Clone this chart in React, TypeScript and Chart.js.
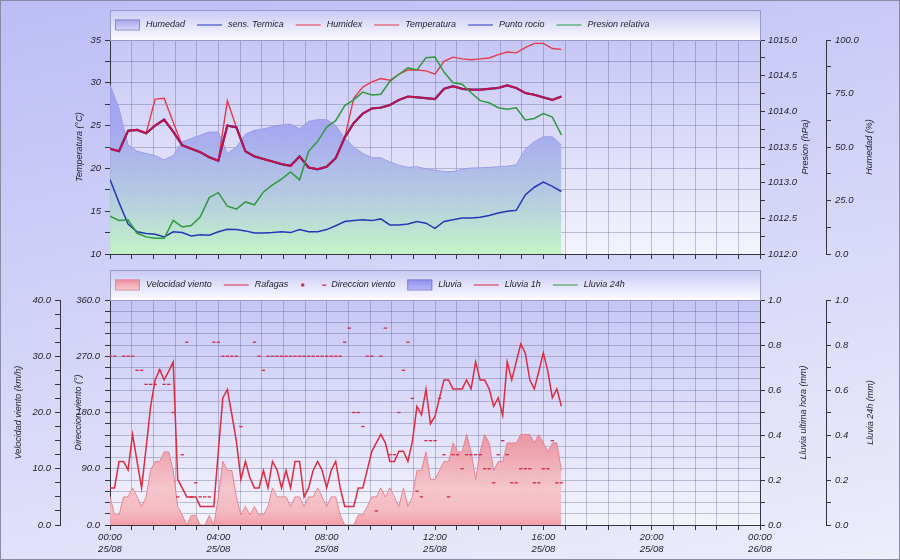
import React, { useEffect, useRef } from "react";
import { Chart, registerables } from "chart.js";

Chart.register(...registerables);

const FONT = '"Liberation Sans", Arial, Helvetica, sans-serif';

// ---------------- data ----------------
// tick labels of the time axis (every 4 h)
const horasEje = ["00:00", "04:00", "08:00", "12:00", "16:00", "20:00", "00:00"];
const fechasEje = ["25/08", "25/08", "25/08", "25/08", "25/08", "25/08", "26/08"];

// sampling intervals (minutes)
const PASO_TEMP = 20;
const PASO_VIENTO = 10;

// top panel (every 20 min from 00:00 to 16:40)
const humedad = [79, 68, 51, 48, 47, 46, 44, 46, 52.5, 54, 55.5, 57, 57, 47, 50, 56, 57.8, 58.5, 59.5, 60.3, 60.7, 58.5, 62, 62.8, 62.8, 60, 54.2, 50, 47, 45, 45, 43, 41.5, 40.5, 40.8, 39.8, 39.1, 38.6, 38.5, 39.6, 40.2, 40.3, 40.5, 40.8, 41, 41.7, 49, 52.5, 54.8, 54.8, 51];
const temperatura = [22.3, 22.0, 24.4, 24.5, 24.1, 25.0, 25.7, 24.3, 22.7, 22.3, 21.9, 21.3, 20.9, 25.0, 24.8, 22.0, 21.4, 21.1, 20.8, 20.5, 20.3, 21.4, 20.1, 19.9, 20.2, 21.2, 23.6, 25.3, 26.4, 27.0, 27.1, 27.4, 28.0, 28.4, 28.3, 28.2, 28.1, 29.3, 29.6, 29.3, 29.2, 29.2, 29.3, 29.4, 29.7, 29.4, 28.8, 28.6, 28.3, 28.0, 28.4];
const sensTermica = [22.3, 22.0, 24.4, 24.5, 24.1, 25.0, 25.7, 24.3, 22.7, 22.3, 21.9, 21.3, 20.9, 25.0, 24.8, 22.0, 21.4, 21.1, 20.8, 20.5, 20.3, 21.4, 20.1, 19.9, 20.2, 21.2, 23.6, 25.3, 26.4, 27.0, 27.1, 27.4, 28.0, 28.4, 28.3, 28.2, 28.1, 29.3, 29.6, 29.3, 29.2, 29.2, 29.3, 29.4, 29.7, 29.4, 28.8, 28.6, 28.3, 28.0, 28.4];
const humidex = [22.3, 22.0, 24.4, 24.5, 24.1, 28.1, 28.2, 25.4, 22.7, 22.3, 21.9, 21.3, 20.9, 27.9, 24.8, 22.0, 21.4, 21.1, 20.8, 20.5, 20.3, 21.4, 20.1, 19.9, 20.2, 21.2, 23.6, 28.2, 29.5, 30.1, 30.5, 30.3, 31.0, 31.5, 31.5, 31.4, 31.0, 32.5, 33.0, 32.8, 32.7, 32.8, 32.9, 33.3, 33.6, 33.5, 34.1, 34.6, 34.6, 34.0, 33.9];
const puntoRocio = [18.7, 16.0, 13.5, 12.6, 12.4, 12.3, 12.0, 12.6, 12.5, 12.1, 12.25, 12.2, 12.6, 12.9, 12.85, 12.7, 12.45, 12.45, 12.5, 12.6, 12.5, 12.85, 12.6, 12.6, 12.85, 13.3, 13.8, 13.9, 14.0, 13.9, 14.1, 13.4, 13.4, 13.5, 13.8, 13.6, 13.0, 13.8, 14.0, 14.2, 14.2, 14.3, 14.5, 14.8, 15.0, 15.1, 16.9, 17.8, 18.4, 17.9, 17.3];
const presion = [1012.53, 1012.47, 1012.48, 1012.29, 1012.24, 1012.22, 1012.22, 1012.47, 1012.38, 1012.40, 1012.52, 1012.79, 1012.86, 1012.67, 1012.63, 1012.73, 1012.69, 1012.87, 1012.97, 1013.05, 1013.15, 1013.04, 1013.44, 1013.58, 1013.78, 1013.87, 1014.08, 1014.16, 1014.27, 1014.23, 1014.24, 1014.42, 1014.52, 1014.61, 1014.58, 1014.75, 1014.76, 1014.55, 1014.40, 1014.38, 1014.26, 1014.15, 1014.12, 1014.05, 1014.03, 1014.05, 1013.88, 1013.90, 1013.97, 1013.92, 1013.67];

// bottom panel (every 10 min from 00:00 to 16:40)
const velocidad = [5.1, 1.8, 1.8, 5.0, 5.0, 6.6, 5.0, 3.3, 5.0, 9.7, 11.3, 11.3, 13.0, 13.0, 9.7, 3.3, 1.8, 0, 1.7, 1.7, 0, 0, 1.7, 0, 5.0, 11.3, 9.7, 9.7, 5.0, 1.8, 3.3, 1.8, 3.3, 1.8, 1.8, 3.3, 6.6, 5.0, 5.0, 5.0, 3.3, 5.0, 5.0, 3.3, 5.0, 5.0, 6.6, 5.0, 3.3, 5.0, 5.0, 1.8, 0, 0, 0, 1.8, 1.8, 3.3, 5.0, 5.0, 6.6, 5.0, 6.6, 5.0, 3.3, 6.6, 3.3, 5.0, 9.7, 9.7, 13.0, 8.1, 8.1, 9.7, 11.3, 11.3, 14.6, 13.0, 13.0, 16.1, 13.0, 8.1, 13.0, 16.1, 14.6, 9.7, 11.3, 11.3, 14.6, 14.6, 14.6, 16.1, 16.1, 16.1, 14.6, 16.1, 14.6, 13.0, 14.6, 14.6, 9.7];
const rafagas = [6.6, 6.6, 11.3, 11.3, 9.8, 16.1, 11.3, 6.6, 13.7, 21.1, 25.8, 27.6, 25.8, 27.3, 29.0, 8.1, 6.6, 5.0, 5.0, 5.0, 3.3, 3.3, 3.3, 3.3, 13.1, 22.6, 24.1, 19.6, 14.9, 8.1, 11.3, 8.4, 6.6, 6.6, 9.7, 6.6, 11.3, 9.8, 6.6, 9.7, 6.6, 11.3, 11.3, 5.0, 6.6, 9.7, 11.3, 9.7, 6.6, 9.7, 11.3, 6.6, 3.3, 3.3, 3.3, 6.6, 6.6, 9.8, 13.1, 14.6, 16.1, 14.6, 11.3, 11.3, 13.1, 13.1, 11.3, 14.9, 21.1, 19.6, 24.1, 18.0, 19.3, 22.6, 25.8, 25.8, 24.2, 24.2, 24.2, 25.8, 24.2, 29.0, 25.8, 25.8, 24.2, 21.1, 22.6, 19.5, 29.0, 25.8, 29.0, 32.2, 30.6, 25.8, 24.2, 27.3, 30.6, 27.3, 22.6, 24.2, 21.1];
const direccion = [270, 270, null, 270, 270, 270, 247.5, 247.5, 225, 225, 225, 247.5, 225, 225, 180, 45, 112.5, 292.5, 45, 67.5, 45, 45, 45, 292.5, 292.5, 270, 270, 270, 270, 157.5, null, null, 292.5, 270, 247.5,
  270, 270, 270, 270, 270, 270, 270, 270, 270, 270, 270, 270, 270, 270, 270, 270, 270,
  292.5, 315, 180, 180, 157.5, 270, 270, 22.5, 270, 315, 112.5, 112.5, 180, 247.5, 292.5, 202.5, 54, 45, 135, 135, 135, 202.5, 112.5, 45, 112.5, 112.5, 90, 112.5, 112.5, 112.5, 112.5, 90, 90, 67.5, 112.5, 135, 112.5, 67.5, 67.5, 90, 90, 90, 67.5, 67.5, 90, 90, 135, 67.5, 67.5];
const lluvia: number[] = [];
const lluvia1h: number[] = [];
const lluvia24h: number[] = [];

// ---------------- helpers ----------------
const serie = (vals: (number | null)[], minutos: number) =>
  vals.map((v, i) => ({ x: (i * minutos) / 60, y: v }));

const TEXT = "#1e1e2a";
const AXIS = "#34343e";
const GRID = "rgba(70,70,125,0.30)";
const tickFont = { family: FONT, size: 9.5, style: "italic" as const, lineHeight: 1.2 };

const near = (v: number, m: number) => Math.abs(v / m - Math.round(v / m)) < 1e-6;

function gradHumedad(c: any) {
  const chart = c.chart;
  const a = chart.chartArea;
  if (!a) return "rgba(160,160,236,0.9)";
  const g = chart.ctx.createLinearGradient(0, a.top, 0, a.bottom);
  g.addColorStop(0, "rgba(154,154,240,0.95)");
  g.addColorStop(0.42, "rgba(164,166,240,0.95)");
  g.addColorStop(0.72, "rgba(178,200,224,0.95)");
  g.addColorStop(1, "rgba(194,244,198,0.97)");
  return g;
}

function gradViento(c: any) {
  const chart = c.chart;
  const a = chart.chartArea;
  if (!a) return "rgba(240,150,160,0.9)";
  const g = chart.ctx.createLinearGradient(0, a.top, 0, a.bottom);
  g.addColorStop(0, "rgba(230,130,145,0.95)");
  g.addColorStop(0.62, "rgba(236,150,162,0.95)");
  g.addColorStop(0.84, "rgba(245,196,202,0.95)");
  g.addColorStop(0.94, "rgba(245,184,190,0.95)");
  g.addColorStop(1, "rgba(242,156,166,0.97)");
  return g;
}

const fondoPlugin = {
  id: "fondoArea",
  beforeDraw(chart: any) {
    const { ctx, chartArea: a } = chart;
    if (!a) return;
    ctx.save();
    const g = ctx.createLinearGradient(0, a.top, 0, a.bottom);
    g.addColorStop(0, "#c6c6f5");
    g.addColorStop(1, "#f4f4fd");
    ctx.fillStyle = g;
    ctx.fillRect(a.left, a.top, a.right - a.left, a.bottom - a.top);
    ctx.restore();
  },
};

const leyendaPlugin = {
  id: "leyendaCaja",
  afterDraw(chart: any) {
    const { ctx, chartArea: a } = chart;
    if (!a) return;
    const h = 30;
    const top = Math.round(a.top) - h;
    const left = Math.round(a.left);
    const w = Math.round(a.right - a.left);
    ctx.save();
    const g = ctx.createLinearGradient(0, top, 0, top + h);
    g.addColorStop(0, "#c8c8f5");
    g.addColorStop(1, "#fbfbff");
    ctx.fillStyle = g;
    ctx.fillRect(left, top, w, h);
    ctx.strokeStyle = "#9a9ac6";
    ctx.lineWidth = 1;
    ctx.strokeRect(left + 0.5, top + 0.5, w, h);
    ctx.font = `italic 9px ${FONT}`;
    ctx.textBaseline = "middle";
    ctx.textAlign = "left";
    const cy = top + 14.5;
    let x = left + 5;
    for (const ds of chart.data.datasets) {
      const kind = ds.leyenda;
      const col = ds.leyendaColor || ds.borderColor;
      if (kind === "box") {
        const gb = ctx.createLinearGradient(0, cy - 5, 0, cy + 5);
        gb.addColorStop(0, ds.leyendaCaja[0]);
        gb.addColorStop(1, ds.leyendaCaja[1]);
        ctx.fillStyle = gb;
        ctx.fillRect(x, cy - 5, 25, 10);
        ctx.strokeStyle = ds.leyendaCaja[2];
        ctx.strokeRect(x + 0.5, cy - 5 + 0.5, 24, 10);
      } else if (kind === "line") {
        ctx.strokeStyle = col;
        ctx.lineWidth = 1;
        ctx.beginPath();
        ctx.moveTo(x, cy + 0.5);
        ctx.lineTo(x + 25, cy + 0.5);
        ctx.stroke();
      } else if (kind === "dash") {
        ctx.fillStyle = col;
        ctx.fillRect(x + 1, cy - 1, 3, 3);
        ctx.fillRect(x + 22, cy, 4, 1.3);
      }
      x += 31;
      ctx.fillStyle = TEXT;
      ctx.fillText(ds.label, x, cy);
      x += ctx.measureText(ds.label).width + 12;
    }
    ctx.restore();
  },
};

function titulosPlugin(posiciones: Record<string, number>) {
  return {
    id: "titulosEjes",
    afterDraw(chart: any) {
      const { ctx, chartArea: a } = chart;
      if (!a) return;
      const cy = (a.top + a.bottom) / 2;
      ctx.save();
      ctx.font = `italic 9px ${FONT}`;
      ctx.fillStyle = TEXT;
      ctx.textAlign = "center";
      ctx.textBaseline = "middle";
      for (const id of Object.keys(posiciones)) {
        const sc = chart.scales[id];
        const text = sc && sc.options && sc.options.title && sc.options.title.text;
        if (!text) continue;
        ctx.save();
        ctx.translate(posiciones[id], cy);
        ctx.rotate(-Math.PI / 2);
        ctx.fillText(text, 0, 0);
        ctx.restore();
      }
      ctx.restore();
    },
  };
}

function ejeY(opts: any) {
  const { position, min, max, step, every, width, weight, padding, gridOnArea, title, fmt } = opts;
  return {
    type: "linear",
    position,
    min,
    max,
    weight,
    afterFit: (s: any) => {
      s.width = width;
    },
    title: { display: false, text: title },
    ticks: {
      stepSize: step,
      autoSkip: false,
      padding,
      color: TEXT,
      font: tickFont,
      callback: (v: number) => (near(v, every) ? fmt(v) : ""),
    },
    grid: {
      drawOnChartArea: gridOnArea,
      color: gridOnArea ? GRID : AXIS,
      tickColor: AXIS,
      tickLength: 5,
      lineWidth: 1,
    },
    border: { display: true, color: AXIS, width: 1 },
  };
}

function ejeX(height: number, conEtiquetas: boolean) {
  return {
    type: "linear",
    position: "bottom",
    min: 0,
    max: 24,
    afterFit: (s: any) => {
      s.height = height;
    },
    ticks: {
      stepSize: 0.8,
      autoSkip: false,
      maxRotation: 0,
      minRotation: 0,
      padding: 2,
      color: TEXT,
      font: tickFont,
      callback: (v: number) => {
        if (!conEtiquetas) return "";
        const k = Math.round(v * 10);
        if (k % 40 !== 0) return "";
        const idx = k / 40;
        return [horasEje[idx], fechasEje[idx]];
      },
    },
    grid: { color: GRID, tickColor: AXIS, tickLength: 5, lineWidth: 1 },
    border: { display: true, color: AXIS, width: 1 },
  };
}

const fmt1 = (v: number) => v.toFixed(1);

function configSuperior(): any {
  return {
    type: "line",
    data: {
      datasets: [
        {
          label: "Humedad",
          data: serie(humedad, PASO_TEMP),
          yAxisID: "yH",
          fill: "origin",
          backgroundColor: gradHumedad,
          borderColor: "rgba(150,150,232,0.85)",
          borderWidth: 1,
          pointRadius: 0,
          order: 10,
          leyenda: "box",
          leyendaCaja: ["#a2a2ec", "#d2d4f6", "#8c8cd0"],
        },
        {
          label: "sens. Termica",
          data: serie(sensTermica, PASO_TEMP),
          yAxisID: "yT",
          borderColor: "#2236b8",
          borderWidth: 2.2,
          pointRadius: 0,
          order: 3,
          leyenda: "line",
        },
        {
          label: "Humidex",
          data: serie(humidex, PASO_TEMP),
          yAxisID: "yT",
          borderColor: "#e63a4c",
          borderWidth: 1.4,
          pointRadius: 0,
          order: 4,
          leyenda: "line",
        },
        {
          label: "Temperatura",
          data: serie(temperatura, PASO_TEMP),
          yAxisID: "yT",
          borderColor: "rgba(214,14,52,0.88)",
          leyendaColor: "#e23c4e",
          borderWidth: 2,
          pointRadius: 0,
          order: 2,
          leyenda: "line",
        },
        {
          label: "Punto rocio",
          data: serie(puntoRocio, PASO_TEMP),
          yAxisID: "yT",
          borderColor: "#2438b6",
          borderWidth: 1.5,
          pointRadius: 0,
          order: 5,
          leyenda: "line",
        },
        {
          label: "Presion relativa",
          data: serie(presion, PASO_TEMP),
          yAxisID: "yP",
          borderColor: "#2f9a3e",
          borderWidth: 1.5,
          pointRadius: 0,
          order: 1,
          leyenda: "line",
        },
      ],
    },
    options: {
      responsive: true,
      maintainAspectRatio: false,
      animation: false,
      events: [],
      layout: { padding: { top: 40, left: 0, right: 0, bottom: 0 } },
      plugins: { legend: { display: false }, tooltip: { enabled: false } },
      elements: { line: { tension: 0 } },
      scales: {
        x: ejeX(16, false),
        yT: ejeY({ position: "left", min: 10, max: 35, step: 2.5, every: 5, width: 110, weight: 0, padding: 4, gridOnArea: true, title: "Temperatura (°C)", fmt: (v: number) => String(Math.round(v)) }),
        yP: ejeY({ position: "right", min: 1012, max: 1015, step: 0.25, every: 0.5, width: 66, weight: 0, padding: 3, gridOnArea: false, title: "Presion (hPa)", fmt: fmt1 }),
        yH: ejeY({ position: "right", min: 0, max: 100, step: 12.5, every: 25, width: 74, weight: 1, padding: 4, gridOnArea: false, title: "Humedad (%)", fmt: fmt1 }),
      },
    },
    plugins: [fondoPlugin, leyendaPlugin, titulosPlugin({ yT: 79, yP: 805, yH: 869 })],
  };
}

function configInferior(): any {
  return {
    type: "line",
    data: {
      datasets: [
        {
          label: "Velocidad viento",
          data: serie(velocidad, PASO_VIENTO),
          yAxisID: "yV",
          fill: "origin",
          backgroundColor: gradViento,
          borderColor: "rgba(228,120,134,0.85)",
          borderWidth: 1,
          pointRadius: 0,
          order: 10,
          leyenda: "box",
          leyendaCaja: ["#ee8e9c", "#f8c6cc", "#d88c98"],
        },
        {
          label: "Rafagas",
          data: serie(rafagas, PASO_VIENTO),
          yAxisID: "yV",
          borderColor: "#dc2c40",
          borderWidth: 1.5,
          pointRadius: 0,
          order: 1,
          leyenda: "line",
        },
        {
          label: "Direccion viento",
          data: serie(direccion, PASO_VIENTO),
          yAxisID: "yD",
          showLine: false,
          borderColor: "#d02a48",
          backgroundColor: "#d02a48",
          pointStyle: "line",
          pointRadius: 1.7,
          pointBorderWidth: 1.3,
          pointBorderColor: "#d02a48",
          order: 2,
          leyenda: "dash",
        },
        {
          label: "Lluvia",
          data: serie(lluvia, PASO_VIENTO),
          yAxisID: "yR1",
          fill: "origin",
          backgroundColor: "rgba(140,140,240,0.8)",
          borderColor: "#8080e0",
          pointRadius: 0,
          order: 5,
          leyenda: "box",
          leyendaCaja: ["#9090f0", "#b4b4f6", "#8080d8"],
        },
        {
          label: "Lluvia 1h",
          data: serie(lluvia1h, PASO_VIENTO),
          yAxisID: "yR1",
          borderColor: "#d8283c",
          borderWidth: 1.5,
          pointRadius: 0,
          order: 4,
          leyenda: "line",
        },
        {
          label: "Lluvia 24h",
          data: serie(lluvia24h, PASO_VIENTO),
          yAxisID: "yR24",
          borderColor: "#2f9a3e",
          borderWidth: 1.5,
          pointRadius: 0,
          order: 3,
          leyenda: "line",
        },
      ],
    },
    options: {
      responsive: true,
      maintainAspectRatio: false,
      animation: false,
      events: [],
      layout: { padding: { top: 40, left: 0, right: 0, bottom: 0 } },
      plugins: { legend: { display: false }, tooltip: { enabled: false } },
      elements: { line: { tension: 0 } },
      scales: {
        x: ejeX(35, true),
        yV: ejeY({ position: "left", min: 0, max: 40, step: 2.5, every: 10, width: 60, weight: 1, padding: 4, gridOnArea: false, title: "Velocidad viento (km/h)", fmt: fmt1 }),
        yD: ejeY({ position: "left", min: 0, max: 360, step: 18, every: 90, width: 50, weight: 0, padding: 5, gridOnArea: true, title: "Direccion viento (°)", fmt: fmt1 }),
        yR1: ejeY({ position: "right", min: 0, max: 1, step: 0.1, every: 0.2, width: 66, weight: 0, padding: 3, gridOnArea: false, title: "Lluvia ultima hora (mm)", fmt: fmt1 }),
        yR24: ejeY({ position: "right", min: 0, max: 1, step: 0.1, every: 0.2, width: 74, weight: 1, padding: 4, gridOnArea: false, title: "Lluvia 24h (mm)", fmt: fmt1 }),
      },
    },
    plugins: [fondoPlugin, leyendaPlugin, titulosPlugin({ yV: 18, yD: 78, yR1: 803, yR24: 870 })],
  };
}

export default function App() {
  const superiorRef = useRef<HTMLCanvasElement>(null);
  const inferiorRef = useRef<HTMLCanvasElement>(null);

  useEffect(() => {
    Chart.defaults.font.family = FONT;
    Chart.defaults.color = TEXT;
    const c1 = new Chart(superiorRef.current as HTMLCanvasElement, configSuperior());
    const c2 = new Chart(inferiorRef.current as HTMLCanvasElement, configInferior());
    return () => {
      c1.destroy();
      c2.destroy();
    };
  }, []);

  return (
    <div
      style={{
        position: "absolute",
        left: 0,
        top: 0,
        width: 900,
        height: 560,
        overflow: "hidden",
        background: "linear-gradient(168deg, #bcbdf6 0%, #d3d3f8 45%, #ededfc 100%)",
      }}
    >
      <div style={{ position: "absolute", left: 0, top: 0, width: 900, height: 270 }}>
        <canvas ref={superiorRef} style={{ display: "block" }} />
      </div>
      <div style={{ position: "absolute", left: 0, top: 260, width: 900, height: 300 }}>
        <canvas ref={inferiorRef} style={{ display: "block" }} />
      </div>
      <div
        style={{
          position: "absolute",
          left: 0,
          top: 0,
          width: 900,
          height: 560,
          boxSizing: "border-box",
          border: "1px solid #8a8aa6",
          pointerEvents: "none",
        }}
      />
    </div>
  );
}
